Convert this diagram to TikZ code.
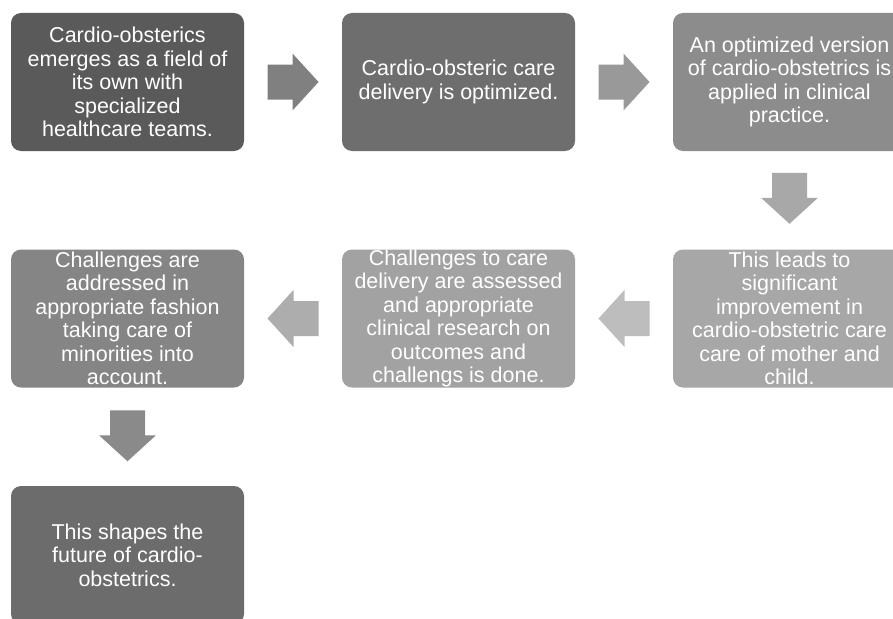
\documentclass[tikz,border=0pt]{standalone}
\usepackage{fontspec}
\setmainfont{Liberation Sans}
\usetikzlibrary{calc}
\definecolor{cbA}{RGB}{90,90,90}
\definecolor{cbB}{RGB}{110,110,110}
\definecolor{cbC}{RGB}{140,140,140}
\definecolor{cbD}{RGB}{133,133,133}
\definecolor{cbE}{RGB}{162,162,162}
\definecolor{cbF}{RGB}{167,167,167}
\definecolor{cbG}{RGB}{108,108,108}
\definecolor{caA}{RGB}{128,128,128}
\definecolor{caB}{RGB}{153,153,153}
\definecolor{caC}{RGB}{168,168,168}
\definecolor{caD}{RGB}{189,189,189}
\definecolor{caE}{RGB}{173,173,173}
\definecolor{caF}{RGB}{138,138,138}
\tikzset{
  stepbox/.style={rounded corners=10pt, minimum width=233pt, minimum height=138pt,
    inner sep=0pt, align=center, text=white,
    font=\fontsize{21.5}{23.5}\selectfont},
  pics/blockarrow/.style={code={
    \path[pic actions] (-25.5,17.5) -- (-0.5,17.5) -- (-0.5,28.5) -- (25.5,0)
      -- (-0.5,-28.5) -- (-0.5,-17.5) -- (-25.5,-17.5) -- cycle;}}
}
\begin{document}
\begin{tikzpicture}[x=1pt,y=-1pt]
\useasboundingbox (0,0) rectangle (893,618);
\clip (0,0) rectangle (893,618);
\fill[white] (0,0) rectangle (893,618);
\node[stepbox, fill=cbA] (b1) at (127.5,82) {Cardio-obsterics\\emerges as a field of\\its own with\\specialized\\healthcare teams.};
\node[stepbox, fill=cbB] (b2) at (458.5,82) {Cardio-obsteric care\\delivery is optimized.};
\node[stepbox, fill=cbC] (b3) at (789.5,82) {An optimized version\\of cardio-obstetrics is\\applied in clinical\\practice.};
\node[stepbox, fill=cbF] (b6) at (789.5,318.5) {This leads to\\significant\\improvement in\\cardio-obstetric care\\care of mother and\\child.};
\node[stepbox, fill=cbE] (b5) at (458.5,318.5) {Challenges to care\\delivery are assessed\\and appropriate\\clinical research on\\outcomes and\\challengs is done.};
\node[stepbox, fill=cbD] (b4) at (127.5,318.5) {Challenges are\\addressed in\\appropriate fashion\\taking care of\\minorities into\\account.};
\node[stepbox, fill=cbG] (b7) at (127.5,555) {This shapes the\\future of cardio-\\obstetrics.};
\pic[fill=caA] at ($(b1.east)!0.5!(b2.west)$) {blockarrow};
\pic[fill=caB] at ($(b2.east)!0.5!(b3.west)$) {blockarrow};
\pic[fill=caC, rotate=-90] at ($(b3.south)!0.5!(b6.north)+(0,-2)$) {blockarrow};
\pic[fill=caD, rotate=180] at ($(b6.west)!0.5!(b5.east)$) {blockarrow};
\pic[fill=caE, rotate=180] at ($(b5.west)!0.5!(b4.east)$) {blockarrow};
\pic[fill=caF, rotate=-90] at ($(b4.south)!0.5!(b7.north)+(0,-1)$) {blockarrow};
\end{tikzpicture}
\end{document}
